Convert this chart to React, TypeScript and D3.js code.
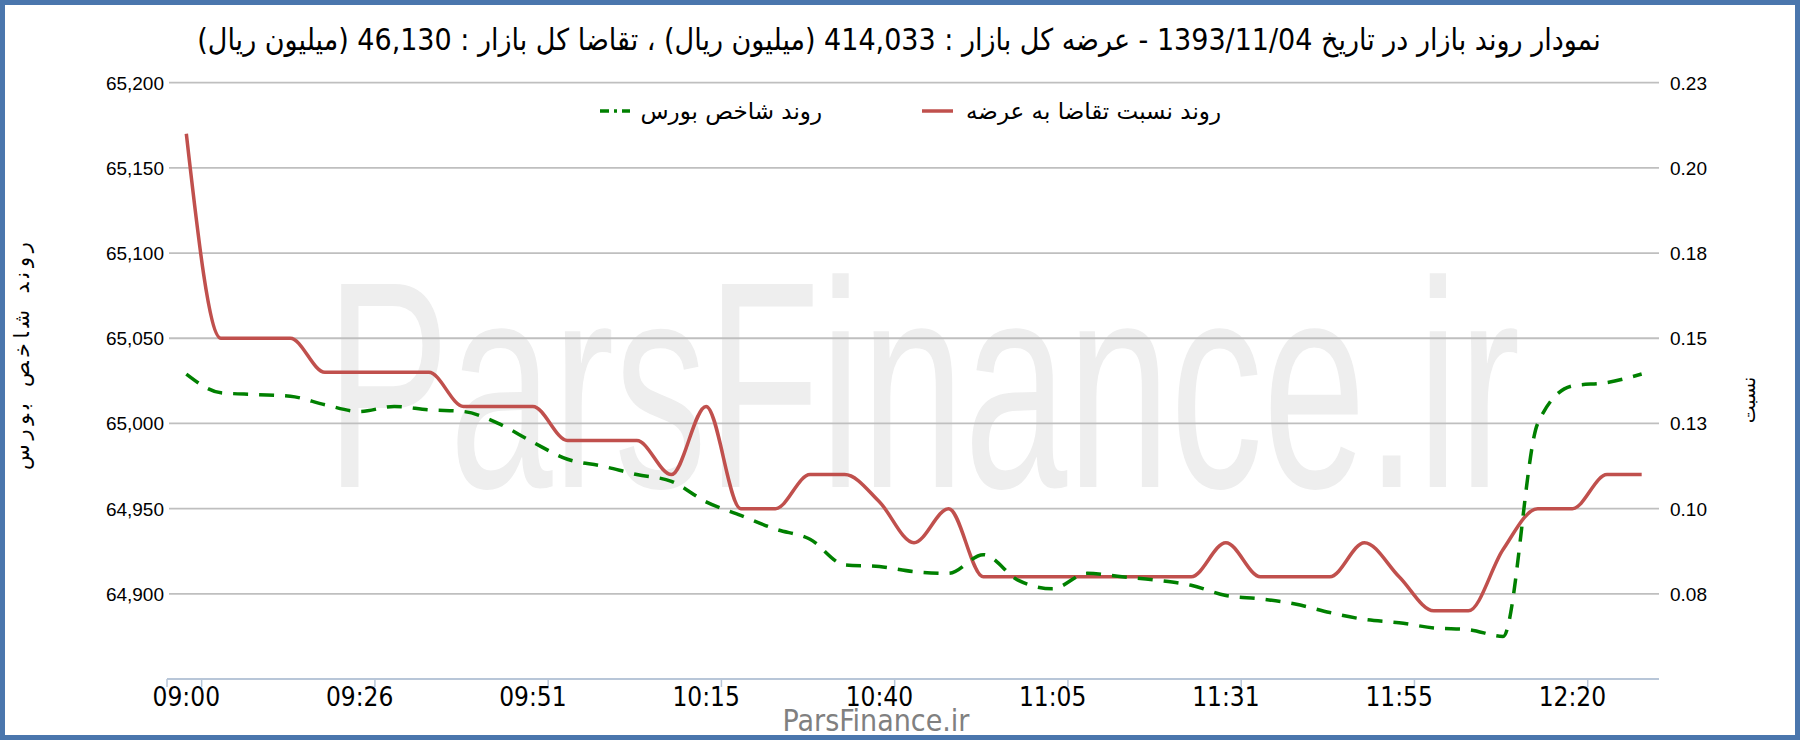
import React from 'react';
import * as d3 from 'd3';

const times = [
  '09:00', '09:05', '09:10', '09:15', '09:21', '09:26', '09:31', '09:36', '09:41', '09:46',
  '09:51', '09:56', '10:01', '10:06', '10:10', '10:15', '10:20', '10:25', '10:30', '10:35',
  '10:40', '10:45', '10:50', '10:55', '11:00', '11:05', '11:10', '11:16', '11:21', '11:26',
  '11:31', '11:36', '11:41', '11:46', '11:50', '11:55', '12:00', '12:05', '12:10', '12:15',
  '12:20', '12:25', '12:30',
];

// روند نسبت تقاضا به عرضه (right axis)
const ratio = [
  0.21, 0.15, 0.15, 0.15, 0.14, 0.14, 0.14, 0.14, 0.13, 0.13,
  0.13, 0.12, 0.12, 0.12, 0.11, 0.13, 0.10, 0.10, 0.11, 0.11,
  0.102, 0.09, 0.10, 0.08, 0.08, 0.08, 0.08, 0.08, 0.08, 0.08,
  0.09, 0.08, 0.08, 0.08, 0.09, 0.08, 0.07, 0.07, 0.088, 0.10,
  0.10, 0.11, 0.11,
];

// روند شاخص بورس (left axis)
const indexValues = [
  65029, 65018, 65017, 65016, 65011, 65007, 65010, 65008, 65007, 65000,
  64989, 64979, 64975, 64970, 64966, 64954, 64946, 64938, 64932, 64917,
  64916, 64913, 64912, 64923, 64908, 64903, 64912, 64910, 64908, 64905,
  64899, 64897, 64894, 64889, 64885, 64883, 64880, 64879, 64875, 65000,
  65022, 65024, 65029,
];

const leftTicks = [64850, 64900, 64950, 65000, 65050, 65100, 65150, 65200];
const rightTicks = [0.05, 0.075, 0.1, 0.125, 0.15, 0.175, 0.2, 0.225];
const rightTickLabels = ['', '0.08', '0.10', '0.13', '0.15', '0.18', '0.20', '0.23'];
const labelEvery = 5;

const titleText =
  'نمودار روند بازار در تاریخ 1393/11/04 - عرضه کل بازار : 414,033 (میلیون ریال) ، تقاضا کل بازار : 46,130 (میلیون ریال)';
const legendIndex = 'روند شاخص بورس';
const legendRatio = 'روند نسبت تقاضا به عرضه';
const leftTitle = 'روند شاخص بورس';
const rightTitle = 'نسبت';
const watermark = 'ParsFinance.ir';

const W = 1800;
const H = 740;
const PL = 169;
const PR = 1659;
const PT = 82.7;
const PB = 679;

const RED = '#C0504D';
const GREEN = '#008000';

export default function App() {
  const x = d3.scaleBand<string>().domain(times).range([PL, PR]);
  const cx = (t: string) => (x(t) as number) + x.bandwidth() / 2;
  const yL = d3.scaleLinear().domain([64850, 65200]).range([PB, PT]);
  const yR = d3.scaleLinear().domain([0.05, 0.225]).range([PB, PT]);

  const redLine = d3
    .line<number>()
    .x((_, i) => cx(times[i]))
    .y((d) => yR(d))
    .curve(d3.curveMonotoneX)(ratio) as string;
  const greenLine = d3
    .line<number>()
    .x((_, i) => cx(times[i]))
    .y((d) => yL(d))
    .curve(d3.curveMonotoneX)(indexValues) as string;

  const labeled = times.filter((_, i) => i % labelEvery === 0);
  const fmt = d3.format(',');

  return (
    <svg
      width={W}
      height={H}
      style={{ position: 'absolute', left: 0, top: 0, background: '#fff' }}
    >
      <rect x={0} y={0} width={W} height={H} fill="#fff" />

      {/* watermark */}
      <text
        transform="translate(326,487) scale(0.628,1)"
        fontFamily="Liberation Sans, Arial, sans-serif"
        fontSize={295}
        fill="#EEEEEE"
      >
        {watermark}
      </text>

      {/* gridlines */}
      {leftTicks.slice(1).map((v) => (
        <line key={v} x1={PL} x2={PR} y1={yL(v)} y2={yL(v)} stroke="#BFBFBF" strokeWidth={1.8} />
      ))}

      {/* x axis */}
      <line x1={PL - 2} x2={PR} y1={PB} y2={PB} stroke="#B8C6D8" strokeWidth={2} />
      <line x1={PL - 2} x2={PL - 2} y1={PB} y2={PB + 8} stroke="#B8C6D8" strokeWidth={1.5} />
      {labeled.map((t) => {
        const tx = cx(t) + x.bandwidth() / 2 - 2;
        return <line key={t} x1={tx} x2={tx} y1={PB} y2={PB + 8} stroke="#B8C6D8" strokeWidth={1.5} />;
      })}
      {labeled.map((t) => (
        <text
          key={t}
          x={cx(t)}
          y={706}
          textAnchor="middle"
          fontFamily="DejaVu Sans Condensed, DejaVu Sans, sans-serif"
          fontSize={26}
          fill="#000"
        >
          {t}
        </text>
      ))}

      {/* left axis labels */}
      {leftTicks.slice(1).map((v) => (
        <text
          key={v}
          x={164}
          y={yL(v) + 7}
          textAnchor="end"
          fontFamily="Liberation Sans, Arial, sans-serif"
          fontSize={19}
          fill="#000"
        >
          {fmt(v)}
        </text>
      ))}

      {/* right axis labels */}
      {rightTicks.map((v, i) =>
        rightTickLabels[i] ? (
          <text
            key={v}
            x={1670}
            y={yR(v) + 7}
            textAnchor="start"
            fontFamily="Liberation Sans, Arial, sans-serif"
            fontSize={19}
            fill="#000"
          >
            {rightTickLabels[i]}
          </text>
        ) : null
      )}

      {/* series */}
      <path d={redLine} fill="none" stroke={RED} strokeWidth={3.5} strokeLinejoin="round" />
      <path d={greenLine} fill="none" stroke={GREEN} strokeWidth={3.5} strokeDasharray="15 11" />

      {/* title */}
      <text
        x={899}
        y={50}
        textAnchor="middle"
        direction="rtl"
        fontFamily="DejaVu Sans Condensed, DejaVu Sans, sans-serif"
        fontSize={30}
        fill="#000"
      >
        {titleText}
      </text>

      {/* legend */}
      <line x1={600} x2={630} y1={111} y2={111} stroke={GREEN} strokeWidth={3.5} strokeDasharray="9 5 3 5" />
      <text
        x={822}
        y={119}
        textAnchor="end"
        fontFamily="DejaVu Sans, sans-serif"
        fontSize={23}
        fill="#000"
      >
        {legendIndex}
      </text>
      <line x1={922} x2={953} y1={111} y2={111} stroke={RED} strokeWidth={3.5} />
      <text
        x={1221}
        y={119}
        textAnchor="end"
        fontFamily="DejaVu Sans, sans-serif"
        fontSize={23}
        fill="#000"
      >
        {legendRatio}
      </text>

      {/* axis titles */}
      <text
        transform="translate(29,356) rotate(-90)"
        textAnchor="middle"
        fontFamily="DejaVu Sans, sans-serif"
        fontSize={21}
        textLength={228}
        lengthAdjust="spacing"
        fill="#000"
      >
        {leftTitle}
      </text>
      <text
        transform="translate(1755,400) rotate(-90)"
        textAnchor="middle"
        fontFamily="DejaVu Sans, sans-serif"
        fontSize={19}
        letterSpacing={3}
        fill="#000"
      >
        {rightTitle}
      </text>

      {/* source */}
      <text
        x={876}
        y={731}
        textAnchor="middle"
        fontFamily="DejaVu Sans Condensed, DejaVu Sans, sans-serif"
        fontSize={30}
        fill="#808080"
      >
        {watermark}
      </text>

      {/* border */}
      <rect x={2.5} y={2.5} width={W - 5} height={H - 5} fill="none" stroke="#4A76AD" strokeWidth={5} />
    </svg>
  );
}
